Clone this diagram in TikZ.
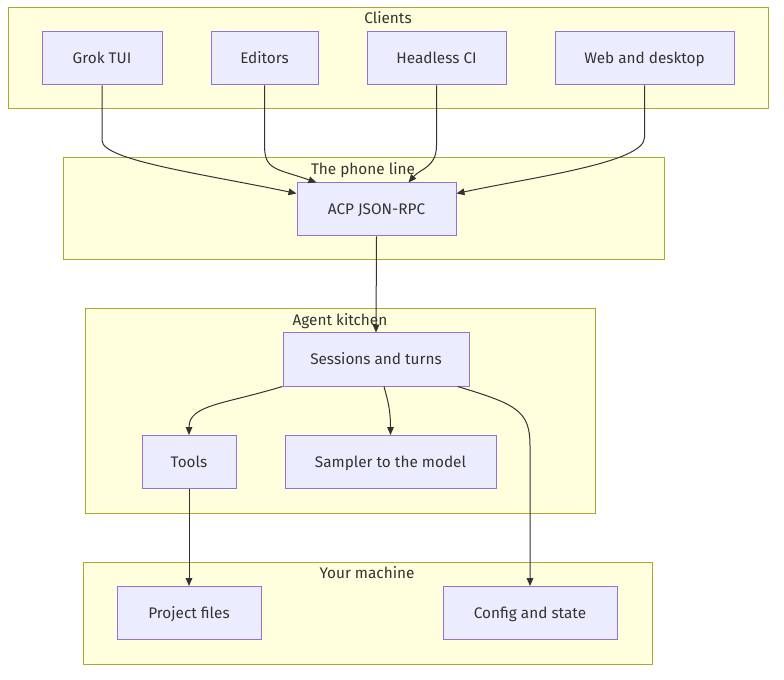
\documentclass[tikz,border=0pt]{standalone}
\usepackage{fontspec}
\setmainfont{Fira Sans}
\usetikzlibrary{arrows.meta,positioning,calc}
\definecolor{mgrp}{HTML}{FFFFDE}
\definecolor{mgrpline}{HTML}{AAAA33}
\definecolor{mnode}{HTML}{ECECFF}
\definecolor{mnodeline}{HTML}{9370DB}
\definecolor{mink}{HTML}{333333}
\tikzset{
  grp/.style={draw=mgrpline,fill=mgrp,line width=0.75pt,inner sep=0pt},
  grplbl/.style={font=\fontsize{11.5}{14}\selectfont,text=mink,inner sep=0pt,text height=9.2pt,text depth=1.4pt},
  nd/.style={draw=mnodeline,fill=mnode,line width=0.75pt,font=\fontsize{11.5}{14}\selectfont,text=mink,minimum height=39.75pt,inner sep=0pt,text height=9.2pt,text depth=1.4pt},
  edge/.style={-{Triangle[length=6pt,width=5pt]},line width=0.75pt,draw=mink},
}
\begin{document}
\begin{tikzpicture}[x=0.75pt,y=-0.75pt]
  \useasboundingbox (0,0) rectangle (784,680);
  % groups
  \node[grp,minimum width=570pt,minimum height=75.75pt] (clients) at (388,58.5) {};
  \node[grplbl] (clientslbl) at (388,18) {Clients};
  \node[grp,minimum width=450.75pt,minimum height=76.5pt] (phone) at (363.5,209) {};
  \node[grplbl] (phonelbl) at (363,169) {The phone line};
  \node[grp,minimum width=382.5pt,minimum height=153pt] (kitchen) at (340,411) {};
  \node[grplbl] (kitchenlbl) at (340,320) {Agent kitchen};
  \node[grp,minimum width=426.75pt,minimum height=76.5pt] (machine) at (367.5,613) {};
  \node[grplbl] (machinelbl) at (367,573) {Your machine};
  % clients
  \node[nd,minimum width=90pt] (grok) at (102,58.5) {Grok TUI};
  \node[nd,minimum width=80.25pt] (editors) at (264.5,58.5) {Editors};
  \node[nd,minimum width=104.25pt] (headless) at (436.5,58.5) {Headless CI};
  \node[nd,minimum width=134.25pt] (web) at (644.5,58.5) {Web and desktop};
  % phone line
  \node[nd,minimum width=119.25pt] (acp) at (376.5,209.5) {ACP JSON-RPC};
  % kitchen
  \node[nd,minimum width=139.5pt] (sessions) at (376,359.5) {Sessions and turns};
  \node[nd,minimum width=70.5pt] (tools) at (189,462) {Tools};
  \node[nd,minimum width=158.25pt] (sampler) at (390.5,462) {Sampler to the model};
  % machine
  \node[nd,minimum width=108pt] (project) at (189,613) {Project files};
  \node[nd,minimum width=130.5pt] (config) at (530,613) {Config and state};
  % edges
  \draw[edge] (grok.south) -- ++(0,55) .. controls +(0,20) and ($(acp.west)+(-90,-35)$) .. ($(acp.west)+(0,-16)$);
  \draw[edge] (editors.south) -- ++(0,60) .. controls +(0,25) and ($(acp.north west)+(-20,-14)$) .. ($(acp.north west)+(20,0)$);
  \draw[edge] (headless.south) -- ++(0,60) .. controls +(0,22) and ($(acp.north east)+(-36,-14)$) .. ($(acp.north east)+(-48,0)$);
  \draw[edge] (web.south) -- ++(0,52) .. controls +(0,25) and ($(acp.east)+(80,-33)$) .. ($(acp.east)+(0,-16)$);
  \draw[edge] (acp.south) -- (sessions.north);
  \draw[edge] (sessions.south west) .. controls +(-60,18) and ($(tools.north)+(0,-30)$) .. (tools.north);
  \draw[edge] ($(sessions.south)+(8,0)$) .. controls +(4,15) and ($(sampler.north)+(0,-25)$) .. (sampler.north);
  \coordinate (cfgbend) at ($(config.north)+(0,-140)$);
  \draw[edge] ($(sessions.south east)+(-12,0)$) .. controls +(60,18) and ($(cfgbend)+(0,-35)$) .. (cfgbend) -- (config.north);
  \draw[edge] (tools.south) -- (project.north);
\end{tikzpicture}
\end{document}
